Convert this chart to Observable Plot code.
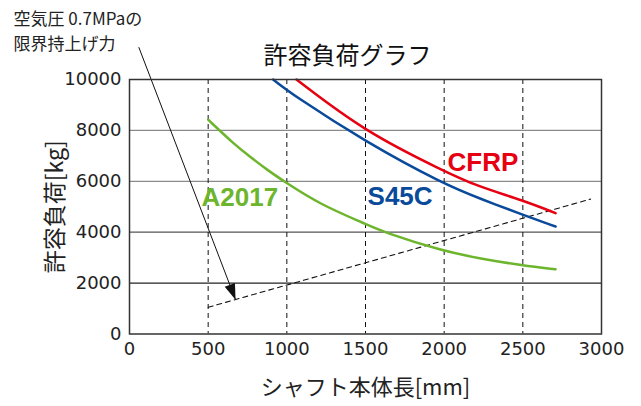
<!DOCTYPE html>
<html><head><meta charset="utf-8">
<script src="https://cdn.jsdelivr.net/npm/d3@7"></script>
<script src="https://cdn.jsdelivr.net/npm/@observablehq/plot@0.6"></script>
<style>body{margin:0;background:#fff}</style>
</head><body><div id="chart"></div>
<script>
const xTicks = [0, 500, 1000, 1500, 2000, 2500, 3000];
const yTicks = [0, 2000, 4000, 6000, 8000, 10000];
const gridY = [2000, 4000, 6000, 8000];
const gridX = [500, 1000, 1500, 2000, 2500];

const cfrpX = [1061, 1500, 2000, 2200, 2500, 2708];
const cfrpY = [10000, 7930, 6400, 5830, 5250, 4750];
const s45cX = [913, 1044, 1500, 1994, 2231, 2500, 2708];
const s45cY = [10000, 9370, 7550, 5900, 5312, 4683, 4224];
const a2017X = [500, 663, 769, 875, 981, 1214, 1500, 1616, 1977, 2231, 2500, 2708];
const a2017Y = [8420, 7470, 6950, 6450, 6000, 5080, 4330, 4000, 3290, 2955, 2692, 2540];

const limitX = [500, 2930];
const limitY = [1050, 5300];
const arrowX = [59, 674];
const arrowY = [11270, 1344];

const seriesNames = ["CFRP", "S45C", "A2017"];
const labelX = [2021, 1513, 458];
const labelY = [6424, 5088, 5049];
const colors = ["#e60012", "#0a4a9a", "#6cb52d"];

const title = "許容負荷グラフ";
const xLabel = "シャフト本体長[mm]";
const yLabel = "許容負荷[kg]";
const noteLines = ["空気圧 0.7MPaの", "限界持上げ力"];

const M = {top: 79, right: 40, bottom: 72.5, left: 129};
const W = 641, H = 406;
const font = "'Noto Sans CJK JP', 'Liberation Sans', sans-serif";

const toPts = (xs, ys, name) => xs.map((x, i) => ({x, y: ys[i], name}));
const curves = [
  ...toPts(cfrpX, cfrpY, "CFRP"),
  ...toPts(s45cX, s45cY, "S45C"),
  ...toPts(a2017X, a2017Y, "A2017")
];
const limit = toPts(limitX, limitY, "limit");
const labels = seriesNames.map((n, i) => ({name: n, x: labelX[i], y: labelY[i]}));

// arrowhead direction in pixel space
const sx = Plot.scale({x: {domain: [0, 3000], range: [M.left, W - M.right]}});
const sy = Plot.scale({y: {domain: [0, 10000], range: [H - M.bottom, M.top]}});
let ux = sx.apply(arrowX[1]) - sx.apply(arrowX[0]);
let uy = sy.apply(arrowY[1]) - sy.apply(arrowY[0]);
const len = Math.hypot(ux, uy); ux /= len; uy /= len;
const HL = 16, HW = 5.5;
const headSymbol = {
  draw(ctx) {
    ctx.moveTo(0, 0);
    ctx.lineTo(-ux * HL - uy * HW, -uy * HL + ux * HW);
    ctx.lineTo(-ux * HL + uy * HW, -uy * HL - ux * HW);
    ctx.closePath();
  }
};

const tickFont = "'DejaVu Sans', sans-serif";

const chart = Plot.plot({
  width: W, height: H,
  marginTop: M.top, marginRight: M.right, marginBottom: M.bottom, marginLeft: M.left,
  style: {fontFamily: font, fontSize: "18px", color: "#222", background: "#fff"},
  x: {domain: [0, 3000], label: null},
  y: {domain: [0, 10000], label: null},
  color: {domain: seriesNames, range: colors},
  marks: [
    Plot.ruleY(gridY, {stroke: d => d >= 6000 ? "#8a8a8a" : d === 4000 ? "#555" : "#222", strokeWidth: 1.3}),
    Plot.ruleX(gridX, {stroke: "#111", strokeWidth: 1, strokeDasharray: "5,4"}),
    Plot.line(limit, {x: "x", y: "y", stroke: "#111", strokeWidth: 1.1, strokeDasharray: "5,4"}),
    Plot.line(curves, {x: "x", y: "y", z: "name", stroke: "name", strokeWidth: 2.5, curve: "basis"}),
    Plot.link({length: 1}, {x1: () => arrowX[0], y1: () => arrowY[0], x2: () => arrowX[1], y2: () => arrowY[1], stroke: "#111", strokeWidth: 1}),
    Plot.dot({length: 1}, {x: () => arrowX[1], y: () => arrowY[1], symbol: headSymbol, fill: "#111", stroke: null, r: 5}),
    Plot.text(labels, {x: "x", y: "y", text: "name", fill: "name", textAnchor: "start", lineAnchor: "bottom",
      fontSize: 26, fontWeight: "bold", fontFamily: "'Liberation Sans', Arial, sans-serif"}),
    Plot.frame({stroke: "#333", strokeWidth: 1.5}),
    Plot.axisX(xTicks, {tickSize: 0, tickPadding: 8, tickFormat: "d", label: null, fontSize: 18, fontFamily: tickFont, fill: "#222"}),
    Plot.axisY(yTicks, {tickSize: 0, tickPadding: 8, tickFormat: "d", label: null, fontSize: 18, fontFamily: tickFont, fill: "#222"}),
    Plot.text([title], {frameAnchor: "top", textAnchor: "middle", lineAnchor: "middle", dx: -18, dy: -23, fontSize: 24, fill: "#111"}),
    Plot.text([xLabel], {frameAnchor: "bottom", textAnchor: "middle", lineAnchor: "middle", dx: 0, dy: 54, fontSize: 22, fill: "#222"}),
    Plot.text([yLabel], {frameAnchor: "left", textAnchor: "middle", lineAnchor: "middle", dx: -74, rotate: -90, fontSize: 23, fill: "#222"}),
    Plot.text([noteLines[0]], {frameAnchor: "top-left", textAnchor: "start", lineAnchor: "middle", dx: -116, dy: -59.5, fontSize: 17, fill: "#222"}),
    Plot.text([noteLines[1]], {frameAnchor: "top-left", textAnchor: "start", lineAnchor: "middle", dx: -116, dy: -34.5, fontSize: 17, fill: "#222"})
  ]
});
document.getElementById("chart").appendChild(chart);
</script>
</body></html>
